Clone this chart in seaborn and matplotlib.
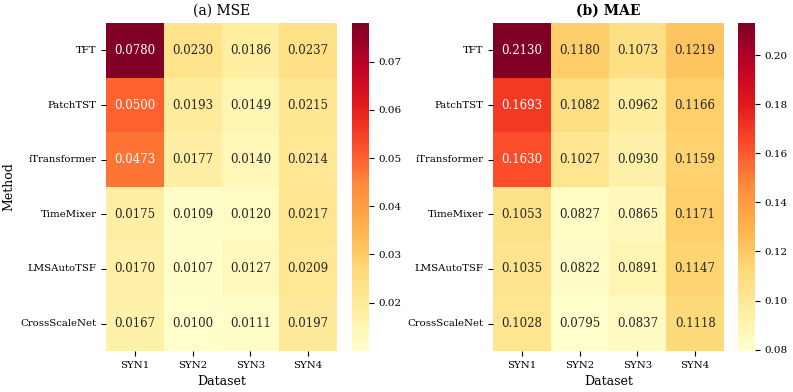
import numpy as np
import pandas as pd
import seaborn as sns
import matplotlib
matplotlib.use("Agg")
import matplotlib.pyplot as plt

# dados
methods = ["TFT", "PatchTST", "iTransformer", "TimeMixer", "LMSAutoTSF", "CrossScaleNet"]
datasets = ["SYN1", "SYN2", "SYN3", "SYN4"]

mse_syn1 = [0.0780, 0.0500, 0.0473, 0.0175, 0.0170, 0.0167]
mse_syn2 = [0.0230, 0.0193, 0.0177, 0.0109, 0.0107, 0.0100]
mse_syn3 = [0.0186, 0.0149, 0.0140, 0.0120, 0.0127, 0.0111]
mse_syn4 = [0.0237, 0.0215, 0.0214, 0.0217, 0.0209, 0.0197]

mae_syn1 = [0.2130, 0.1693, 0.1630, 0.1053, 0.1035, 0.1028]
mae_syn2 = [0.1180, 0.1082, 0.1027, 0.0827, 0.0822, 0.0795]
mae_syn3 = [0.1073, 0.0962, 0.0930, 0.0865, 0.0891, 0.0837]
mae_syn4 = [0.1219, 0.1166, 0.1159, 0.1171, 0.1147, 0.1118]

mse_ticks = [0.02, 0.03, 0.04, 0.05, 0.06, 0.07]
mae_ticks = [0.08, 0.10, 0.12, 0.14, 0.16, 0.18, 0.20]

df_mse = pd.DataFrame(dict(zip(datasets, [mse_syn1, mse_syn2, mse_syn3, mse_syn4])), index=methods)
df_mae = pd.DataFrame(dict(zip(datasets, [mae_syn1, mae_syn2, mae_syn3, mae_syn4])), index=methods)

plt.rcParams['font.family'] = ['DejaVu Serif']

fig = plt.figure(figsize=(7.93, 3.92), dpi=100)
ax1 = fig.add_axes([0.134, 0.105, 0.291, 0.836])
cax1 = fig.add_axes([0.444, 0.105, 0.021, 0.836])
ax2 = fig.add_axes([0.622, 0.105, 0.291, 0.836])
cax2 = fig.add_axes([0.931, 0.105, 0.021, 0.836])

for ax, cax, df, title, weight, ticks in [
        (ax1, cax1, df_mse, "(a) MSE", "normal", mse_ticks),
        (ax2, cax2, df_mae, "(b) MAE", "bold", mae_ticks)]:
    sns.heatmap(df, ax=ax, cbar_ax=cax, cmap="YlOrRd", annot=True, fmt=".4f",
                annot_kws={"size": 8.5}, cbar_kws={"ticks": ticks})
    ax.set_title(title, fontsize=10, fontweight=weight)
    ax.set_xlabel("Dataset", fontsize=9)
    ax.tick_params(labelsize=7.3)
    ax.set_yticklabels(ax.get_yticklabels(), rotation=0)
    cax.tick_params(labelsize=7.5)

ax1.set_ylabel("Method", fontsize=9)
ax2.set_ylabel("")

fig.savefig("out.png", dpi=100)
